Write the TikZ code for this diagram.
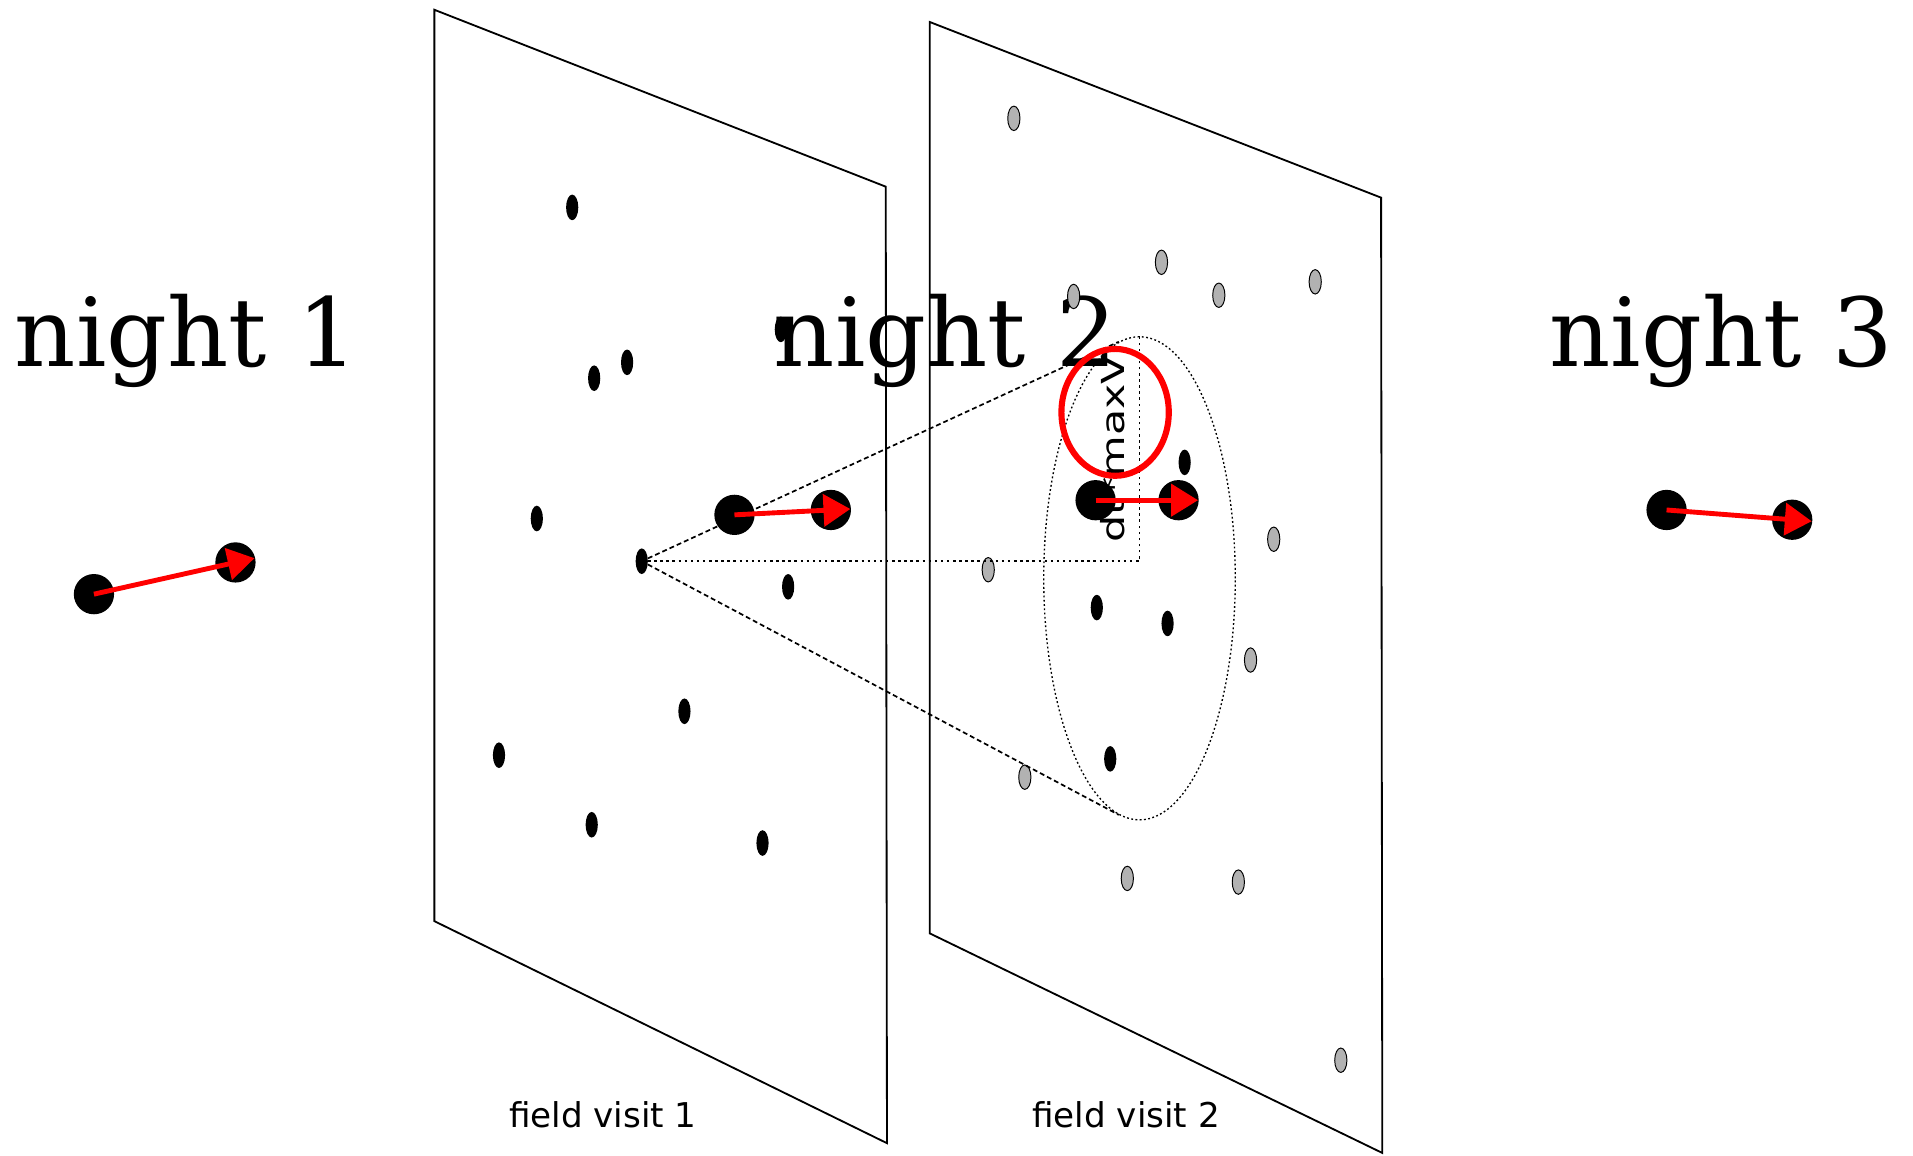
\documentclass[tikz,border=0pt]{standalone}
\usepackage{fontspec}
\setmainfont{DejaVu Serif}
\newfontfamily\labelfont{DejaVu Sans}
\usetikzlibrary{shapes.geometric,arrows.meta}
\begin{document}
\begin{tikzpicture}[x=1pt,y=-1pt,
  plane/.style={draw=black,line width=1.5pt,line join=miter},
  nightlbl/.style={font=\fontsize{78}{82}\selectfont,inner sep=0pt,anchor=base west},
  visitlbl/.style={font=\labelfont\fontsize{28}{30}\selectfont,inner sep=0pt,anchor=base west},
  bdot/.style={ellipse,fill=black,inner sep=0pt,minimum width=10pt,minimum height=21pt},
  gdot/.style={ellipse,draw=black,line width=0.8pt,fill=black!30,inner sep=0pt,minimum width=10pt,minimum height=20pt},
  bigdot/.style={circle,fill=black,inner sep=0pt,minimum size=33pt},
  mvarrow/.style={draw=red,line width=4pt,shorten >=-16pt,-{Triangle[length=22pt,width=26pt]}},
  conedash/.style={draw=black,line width=1.4pt,dash pattern=on 4pt off 2.5pt},
  conedot/.style={draw=black,line width=1.4pt,dash pattern=on 2pt off 3pt},
  ringdot/.style={draw=black,line width=1.1pt,dash pattern=on 1.5pt off 2pt}
]
\useasboundingbox (0,0) rectangle (1568,947);
% planes
\draw[plane] (356,8) -- (726,153) -- (727,937) -- (356,755) -- cycle;
\draw[plane] (762,18) -- (1132,162) -- (1133,945) -- (762,765) -- cycle;
% night labels
\node[nightlbl] (n1) at (12,300) {night 1};
\node[nightlbl] (n2) at (634,300) {night 2};
\node[nightlbl] (n3) at (1270,300) {night 3};
% field visit labels
\node[visitlbl] (fv1) at (417,924) {field visit 1};
\node[visitlbl] (fv2) at (846,924) {field visit 2};
% search ellipse
\node[ringdot,ellipse,minimum width=157pt,minimum height=396pt,inner sep=0pt] (cone) at (934,474) {};
% plane 1 dots
\node[bdot] (p1a) at (469,170) {};
\node[bdot] (p1b) at (487,310) {};
\node[bdot] (p1c) at (514,297) {};
\node[bdot] (p1d) at (440,425) {};
\node[bdot] (p1e) at (646,481) {};
\node[bdot] (p1f) at (561,583) {};
\node[bdot] (p1g) at (409,619) {};
\node[bdot] (p1h) at (485,676) {};
\node[bdot] (p1i) at (625,691) {};
\node[bdot] (p1j) at (640,270) {};
\node[bdot] (apex) at (526,460) {};
% plane 2 grey dots
\node[gdot] (g1) at (831,97) {};
\node[gdot] (g2) at (952,215) {};
\node[gdot] (g3) at (999,242) {};
\node[gdot] (g4) at (1078,231) {};
\node[gdot] (g5) at (880,243) {};
\node[gdot] (g6) at (1044,442) {};
\node[gdot] (g7) at (810,467) {};
\node[gdot] (g8) at (1025,541) {};
\node[gdot] (g9) at (840,637) {};
\node[gdot] (g10) at (924,720) {};
\node[gdot] (g11) at (1015,723) {};
\node[gdot] (g12) at (1099,869) {};
% plane 2 black dots
\node[bdot] (q1) at (971,379) {};
\node[bdot] (q2) at (899,498) {};
\node[bdot] (q3) at (957,511) {};
\node[bdot] (q4) at (910,622) {};
% big dots
\node[bigdot] (t1) at (77,487) {};
\node[bigdot] (h1) at (193,461) {};
\node[bigdot] (t2) at (602,422) {};
\node[bigdot] (h2) at (681,418) {};
\node[bigdot] (t3) at (898,410) {};
\node[bigdot] (h3) at (966,410) {};
\node[bigdot] (t4) at (1366,418) {};
\node[bigdot] (h4) at (1469,426) {};
% cone lines
\coordinate (corner) at (934,460);
\draw[conedash] (apex) -- (cone.95);
\draw[conedash] (apex) -- (cone.265);
\draw[conedot] (apex) -- (corner) -- (cone.north);
% rotated label
\node[rotate=90,inner sep=0pt,font=\labelfont\fontsize{26}{28}\selectfont] (dtl) at (912,368) {\scalebox{1.35}[1]{dt*maxV}};
% movement arrows
\draw[mvarrow] (t1.center) -- (h1.center);
\draw[mvarrow] (t2.center) -- (h2.center);
\draw[mvarrow] (t3.center) -- (h3.center);
\draw[mvarrow] (t4.center) -- (h4.center);
% red highlight ring
\node[draw=red,line width=5pt,ellipse,minimum width=88pt,minimum height=104pt,inner sep=0pt] (ring) at (914,338) {};
\end{tikzpicture}
\end{document}
